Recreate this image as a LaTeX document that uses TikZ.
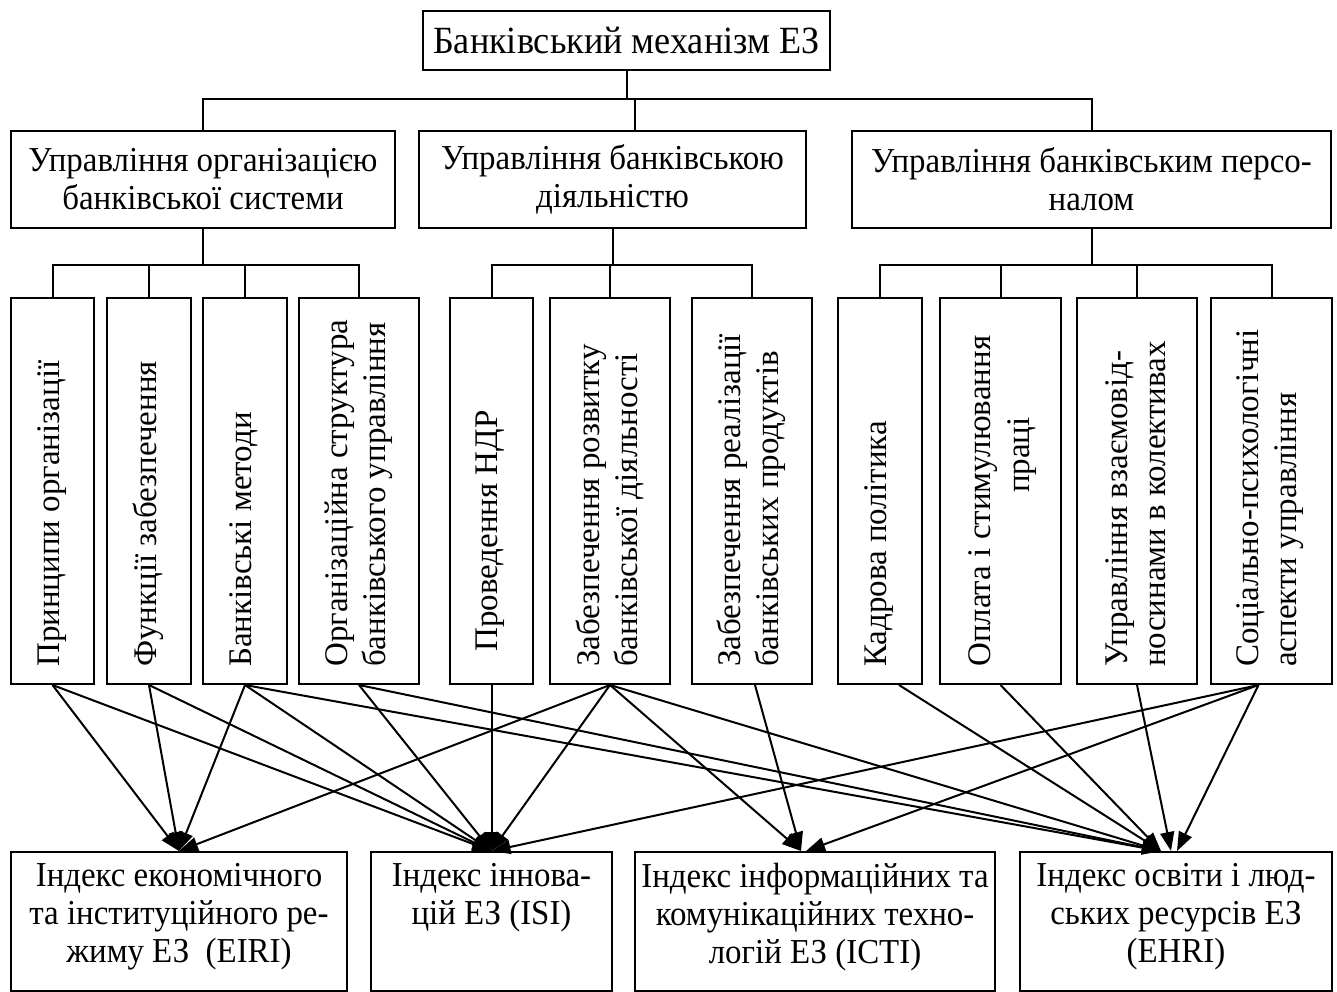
\documentclass[tikz,border=0pt]{standalone}
\usepackage{fontspec}
\setmainfont{Liberation Serif}
\newfontfamily\hfont{Liberation Serif}[FakeStretch=0.94]
\usetikzlibrary{arrows.meta,calc}
\begin{document}
\begin{tikzpicture}[x=1pt,y=-1pt,
  txt/.style={font=\hfont\fontsize{35}{38}\selectfont},
  vfs/.style={font=\fontsize{33}{38}\selectfont},
  box/.style={draw, line width=2pt, inner sep=0pt, anchor=north west, txt, align=center},
  sz/.style n args={2}{minimum width=#1, minimum height=#2},
  link/.style={line width=2pt},
  arr/.style={line width=2pt, -{Triangle[length=19pt,width=14pt]}},
  vtxt/.style={rotate=90, anchor=west, inner sep=0pt, vfs, align=left},
  btxt/.style={anchor=north, inner sep=0pt, txt, align=center}]
\useasboundingbox (0,0) rectangle (1337,992);
% level 0
\node[box, sz={407pt}{59pt}, font=\hfont\fontsize{38.5}{38}\selectfont] (top) at (422,10) {Банківський механізм ЕЗ};
% level 1
\node[box, sz={384pt}{97pt}] (L) at (10,130) {Управління організацією\\банківської системи};
\node[box, sz={387pt}{97pt}] (M) at (418,130) {Управління банківською\\діяльністю};
\node[box, sz={479pt}{97pt}] (R) at (851,130) {Управління банківським персо-\\налом};
% level 2 (vertical boxes)
\node[box, sz={83pt}{386pt}] (v1) at (10,297) {};
\node[box, sz={84pt}{386pt}] (v2) at (106,297) {};
\node[box, sz={84pt}{386pt}] (v3) at (202,297) {};
\node[box, sz={120pt}{386pt}] (v4) at (298,297) {};
\node[box, sz={83pt}{386pt}] (v5) at (449,297) {};
\node[box, sz={120pt}{386pt}] (v6) at (549,297) {};
\node[box, sz={120pt}{386pt}] (v7) at (691,297) {};
\node[box, sz={84pt}{386pt}] (v8) at (837,297) {};
\node[box, sz={121pt}{386pt}] (v9) at (939,297) {};
\node[box, sz={120pt}{386pt}] (v10) at (1076,297) {};
\node[box, sz={121pt}{386pt}] (v11) at (1210,297) {};
% vertical texts
\node[vtxt] (t1) at (52,667) {Принципи організації};
\node[vtxt] (t2) at (148,667) {Функції забезпечення};
\node[vtxt] (t3) at (244,667) {Банківські методи};
\node[vtxt] (t4) at (359,667) {Організаційна структура\\банківського управління};
\node[vtxt] (t5) at (490,652) {Проведення НДР};
\node[vtxt] (t6) at (610,667) {Забезпечення розвитку\\банківської діяльності};
\node[vtxt] (t7) at (751,667) {Забезпечення реалізації\\банківських продуктів};
\node[vtxt] (t8) at (879,667) {Кадрова політика};
\node[vtxt] (t9a) at (983,667) {Оплата і стимулювання};
\node[rotate=90, inner sep=0pt, vfs] (t9b) at (1022,455) {праці};
\node[vtxt] (t10) at (1136,667) {Управління взаємовід-\\носинами в колективах};
\node[vtxt] (t11) at (1270,667) {Соціально-психологічні\\аспекти управління};
% level 3 (indices)
\node[box, sz={336pt}{139pt}] (A) at (10,851) {};
\node[box, sz={241pt}{139pt}] (B) at (370,851) {};
\node[box, sz={360pt}{139pt}] (C) at (634,851) {};
\node[box, sz={312pt}{139pt}] (D) at (1019,851) {};
\node[btxt] (tA) at ($(A.north)+(0,12)$) {Індекс економічного\\та інституційного ре-\\жиму ЕЗ\ \ (EIRI)};
\node[btxt] (tB) at ($(B.north)+(0,12)$) {Індекс іннова-\\цій ЕЗ (ISI)};
\node[btxt] (tC) at ($(C.north)+(0,12)$) {Індекс інформаційних та\\комунікаційних техно-\\логій ЕЗ (ICTI)};
\node[btxt] (tD) at ($(D.north)+(0,12)$) {Індекс освіти і люд-\\ських ресурсів ЕЗ\\(EHRI)};
% tree lines
\coordinate (bar1) at (0,99);
\coordinate (bar2) at (0,265);
\coordinate (mdrop) at ($(M.north)+(22,0)$);
\draw[link] (top.south) -- (top.south |- bar1);
\draw[link] (L.north) -- (L.north |- bar1) -- (R.north |- bar1) -- (R.north);
\draw[link] (mdrop) -- (mdrop |- bar1);
\draw[link] (L.south) -- (L.south |- bar2);
\draw[link] (v1.north) -- (v1.north |- bar2) -- (v4.north |- bar2) -- (v4.north);
\draw[link] (v2.north) -- (v2.north |- bar2);
\draw[link] (v3.north) -- (v3.north |- bar2);
\draw[link] (M.south) -- (M.south |- bar2);
\draw[link] (v5.north) -- (v5.north |- bar2) -- (v7.north |- bar2) -- (v7.north);
\draw[link] (v6.north) -- (v6.north |- bar2);
\draw[link] (R.south) -- (R.south |- bar2);
\draw[link] (v8.north) -- (v8.north |- bar2) -- (v11.north |- bar2) -- (v11.north);
\draw[link] (v9.north) -- (v9.north |- bar2);
\draw[link] (v10.north) -- (v10.north |- bar2);
% source and target points
\coordinate (s7) at ($(v7.south)+(3,0)$);
\coordinate (s8) at ($(v8.south)+(19,0)$);
\coordinate (s11) at ($(v11.south)+(-13,0)$);
\coordinate (cA) at ($(C.north)+(-14,0)$);
\coordinate (cB) at ($(C.north)+(-9,0)$);
\coordinate (dA) at ($(D.north)+(-15,0)$);
\coordinate (dB) at ($(D.north)+(-5,0)$);
\coordinate (dC) at ($(D.north)+(1,0)$);
% arrows
\draw[arr] (v1.south) -- (A.north);
\draw[arr] (v1.south) -- (B.north);
\draw[arr] (v2.south) -- (A.north);
\draw[arr] (v2.south) -- (B.north);
\draw[arr] (v3.south) -- (A.north);
\draw[arr] (v3.south) -- (B.north);
\draw[arr] (v3.south) -- (dA);
\draw[arr] (v4.south) -- (B.north);
\draw[arr] (v4.south) -- (dA);
\draw[arr] (v5.south) -- (B.north);
\draw[arr] (v6.south) -- (A.north);
\draw[arr] (v6.south) -- (B.north);
\draw[arr] (v6.south) -- (cA);
\draw[arr] (v6.south) -- (dA);
\draw[arr] (s7) -- (cA);
\draw[arr] (s8) -- (dA);
\draw[arr] (v9.south) -- (dA);
\draw[arr] (v10.south) -- (dB);
\draw[arr] (s11) -- (B.north);
\draw[arr] (s11) -- (cB);
\draw[arr] (s11) -- (dC);
\end{tikzpicture}
\end{document}
